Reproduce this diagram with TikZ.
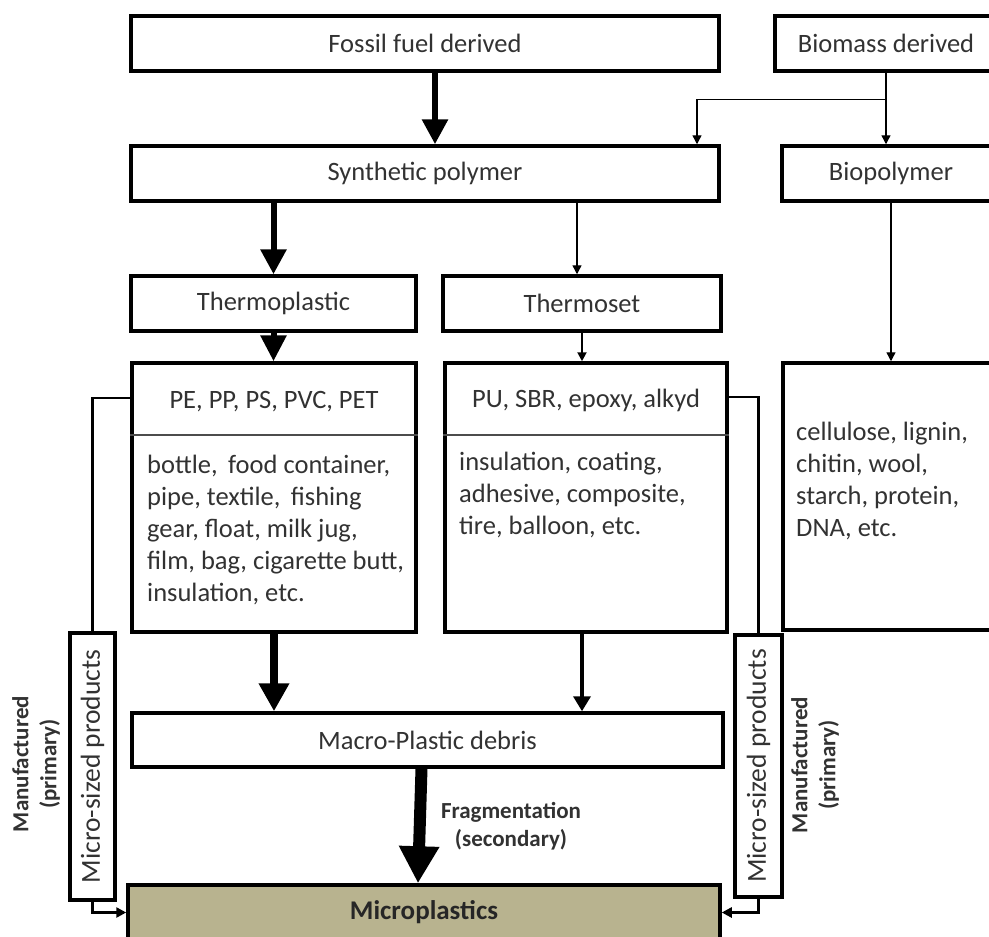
\documentclass[tikz,border=0pt]{standalone}
\usepackage{fontspec}
\setmainfont{Carlito}
\usetikzlibrary{arrows.meta,calc}
\definecolor{txt}{RGB}{50,50,50}
\definecolor{olivefill}{RGB}{184,179,143}
\begin{document}
\begin{tikzpicture}[x=1pt,y=-1pt,
  box/.style={draw=black, line width=3.5pt, inner sep=0pt, text=txt,
    font=\fontsize{26.5}{32}\selectfont},
  lbl/.style={inner sep=0pt, text=txt, font=\fontsize{26.5}{32}\selectfont},
  boldlbl/.style={inner sep=0pt, text=txt, align=center,
    font=\fontsize{23}{28}\selectfont\bfseries},
  thinarr/.style={line width=1.4pt, -{Triangle[width=9pt,length=9pt]}},
  medarr/.style={line width=3.5pt, -{Triangle[width=17pt,length=15pt]}},
  bigarr/.style={line width=6pt, -{Triangle[width=25pt,length=25pt]}},
  hugearr/.style={line width=8pt, -{Triangle[width=29pt,length=28pt]}},
  fragarr/.style={line width=12pt, -{Triangle[width=38pt,length=37pt]}},
  sidearr/.style={line width=2.5pt, -{Triangle[width=10pt,length=10pt]}},
  sideline/.style={line width=2.5pt},
  divider/.style={line width=2pt, draw=black!70}
]
\useasboundingbox (0,0) rectangle (989,937);
\clip (0,0) rectangle (989,937);

% boxes
\node[box, minimum width=588pt, minimum height=55pt] (fossil) at (425,43.5) {Fossil fuel derived};
\node[box, minimum width=222pt, minimum height=55pt] (biomass) at (886,43.5) {Biomass derived};
\node[box, minimum width=588pt, minimum height=55pt] (synth) at (425,173.5) {Synthetic polymer};
\node[box, minimum width=218pt, minimum height=55pt] (biopol) at (891,173.5) {Biopolymer};
\node[box, minimum width=285pt, minimum height=55pt] (tplast) at (273.5,303.5) {Thermoplastic};
\node[box, minimum width=278pt, minimum height=55pt] (tset) at (582,303.5) {Thermoset};
\node[box, minimum width=284pt, minimum height=269pt] (pe) at (274,497.5) {};
\node[box, minimum width=282pt, minimum height=269pt] (pu) at (586,497.5) {};
\node[box, minimum width=217pt, minimum height=267pt] (cell) at (891.5,496.5) {};
\node[box, minimum width=591pt, minimum height=54pt] (macro) at (427.5,740) {Macro-Plastic debris};
\node[box, fill=olivefill, minimum width=592pt, minimum height=55pt,
  font=\fontsize{27}{32}\selectfont\bfseries, text=black!85] (micro) at (424,912.5) {Microplastics};
\node[box, minimum width=45pt, minimum height=267pt] (lms) at (92.5,766.5) {};
\node[box, minimum width=47pt, minimum height=262pt] (rms) at (758.5,766) {};

% dividers
\draw[divider] ($(pe.west)+(0,-62.5)$) -- ($(pe.east)+(0,-62.5)$);
\draw[divider] ($(pu.west)+(0,-62.5)$) -- ($(pu.east)+(0,-62.5)$);

% texts inside the split boxes (base anchor = baseline of last line)
\node[lbl, anchor=base] (pet) at (274,408) {PE, PP, PS, PVC, PET};
\node[lbl, anchor=base west, align=left] (peb) at (147,601)
  {bottle,\, food container,\\ pipe, textile,\, fishing\\ gear, float, milk jug,\\ film, bag, cigarette butt,\\ insulation, etc.};
\node[lbl, anchor=base] (put) at (586,407) {PU, SBR, epoxy, alkyd};
\node[lbl, anchor=base west, align=left] (pub) at (459,534)
  {insulation, coating,\\ adhesive, composite,\\ tire, balloon, etc.};
\node[lbl, anchor=base west, align=left] (cellb) at (796,536)
  {cellulose, lignin,\\ chitin, wool,\\ starch, protein,\\ DNA, etc.};

% rotated texts
\node[lbl, rotate=90, font=\fontsize{27.5}{32}\selectfont] (lmst) at (lms.center) {Micro-sized products};
\node[lbl, rotate=90, font=\fontsize{27.5}{32}\selectfont] (rmst) at (rms.center) {Micro-sized products};
\node[boldlbl, rotate=90] (lman) at (36,764) {Manufactured\\(primary)};
\node[boldlbl, rotate=90] (rman) at (815,765) {Manufactured\\(primary)};
\node[boldlbl] (frag) at (511,826) {Fragmentation\\(secondary)};

% connectors
\draw[bigarr] ([xshift=10pt]fossil.south) -- ([xshift=10pt]synth.north);
\draw[thinarr] (biomass.south) -- (biomass.south |- biopol.north);
\coordinate (br) at ($(biomass.south)+(0,27)$);
\draw[thinarr] (br) -| ([xshift=272pt]synth.north);
\draw[bigarr] (synth.south -| tplast.north) -- (tplast.north);
\draw[thinarr] ([xshift=-5pt]tset.north |- synth.south) -- ([xshift=-5pt]tset.north);
\draw[bigarr, -{Triangle[width=25pt,length=26pt]}] (tplast.south) -- (tplast.south |- pe.north);
\draw[thinarr, line width=2pt] (tset.south) -- (tset.south |- pu.north);
\draw[thinarr] (biopol.south) -- (biopol.south |- cell.north);
\draw[hugearr] (pe.south) -- (pe.south |- macro.north);
\draw[medarr] ([xshift=-4pt]pu.south) -- ([xshift=-4pt]pu.south |- macro.north);
\draw[fragarr] ([xshift=-6pt]macro.south) -- ([xshift=-6pt]micro.north);
\draw[sideline] ($(pe.west)+(0,-99.5)$) -| (lms.north);
\draw[sidearr] (lms.south) |- (micro.west);
\draw[sideline] ($(pu.east)+(0,-100.5)$) -| (rms.north);
\draw[sidearr] (rms.south) |- (micro.east);
\end{tikzpicture}
\end{document}
